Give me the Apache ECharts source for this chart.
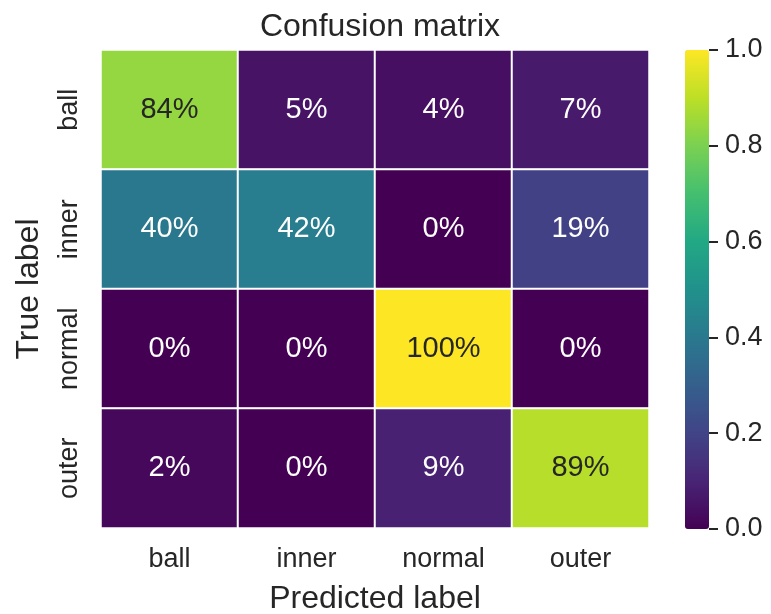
<!DOCTYPE html>
<html>
<head>
<meta charset="utf-8">
<title>Confusion matrix</title>
<script src="https://cdn.jsdelivr.net/npm/echarts@6/dist/echarts.min.js"></script>
<style>
  html, body { margin: 0; padding: 0; background: #ffffff; }
  #chart { width: 771px; height: 614px; }
</style>
</head>
<body>
<div id="chart"></div>
<script>
// Class names along both axes
const predictedLabels = ['ball', 'inner', 'normal', 'outer'];
const trueLabels = ['ball', 'inner', 'normal', 'outer'];

// Row-normalised rates, one array per true class
const rowBall = [0.84, 0.05, 0.04, 0.07];
const rowInner = [0.40, 0.42, 0.00, 0.19];
const rowNormal = [0.00, 0.00, 1.00, 0.00];
const rowOuter = [0.02, 0.00, 0.09, 0.89];

// Colour bar tick values
const colorbarTicks = [0.0, 0.2, 0.4, 0.6, 0.8, 1.0];

// Viridis stops for the colour scale
const viridis = ['#440154', '#482475', '#414487', '#355f8d', '#2a788e',
                 '#21918c', '#22a884', '#44bf70', '#7ad151', '#bddf26', '#fde725'];

const FONT = '"Liberation Sans", Arial, Helvetica, sans-serif';
const INK = '#262626';

const rows = [rowBall, rowInner, rowNormal, rowOuter];
const cells = [];
rows.forEach((row, r) => {
  row.forEach((v, c) => {
    cells.push({
      value: [c, r, v],
      label: { color: v > 0.6 ? INK : '#ffffff' }
    });
  });
});

const chart = echarts.init(document.getElementById('chart'), null, { renderer: 'canvas' });

chart.setOption({
  backgroundColor: '#ffffff',
  animation: false,
  textStyle: { fontFamily: FONT },
  title: {
    text: 'Confusion matrix',
    left: 375,
    top: 6,
    textAlign: 'center',
    textStyle: { fontFamily: FONT, fontSize: 32, fontWeight: 'normal', color: INK }
  },
  grid: [
    { left: 101, top: 50, width: 548, height: 478, containLabel: false, outerBoundsMode: 'none' },
    { left: 685, top: 50, width: 24, height: 479, containLabel: false, outerBoundsMode: 'none' }
  ],
  xAxis: [
    {
      type: 'category',
      gridIndex: 0,
      data: predictedLabels,
      position: 'bottom',
      name: 'Predicted label',
      nameLocation: 'middle',
      nameGap: 55,
      nameTextStyle: { fontFamily: FONT, fontSize: 32, color: INK },
      axisLine: { show: false },
      axisTick: { show: false },
      splitLine: { show: false },
      axisLabel: { fontFamily: FONT, fontSize: 27, color: INK, margin: 18 }
    },
    { type: 'value', gridIndex: 1, show: false, min: 0, max: 1 }
  ],
  yAxis: [
    {
      type: 'category',
      gridIndex: 0,
      data: trueLabels,
      inverse: true,
      name: 'True label',
      nameLocation: 'middle',
      nameGap: 56,
      nameTextStyle: { fontFamily: FONT, fontSize: 32, color: INK },
      axisLine: { show: false },
      axisTick: { show: false },
      splitLine: { show: false },
      axisLabel: { fontFamily: FONT, fontSize: 27, color: INK, rotate: 90, margin: 18 }
    },
    {
      type: 'value',
      gridIndex: 1,
      position: 'right',
      z: 10,
      min: colorbarTicks[0],
      max: colorbarTicks[colorbarTicks.length - 1],
      interval: 0.2,
      axisLine: { show: true, onZero: false, lineStyle: { color: 'rgba(0,0,0,0)' } },
      splitLine: { show: false },
      axisTick: { show: true, inside: false, length: 9, lineStyle: { color: INK, width: 2 } },
      axisLabel: {
        fontFamily: FONT, fontSize: 27, color: INK, margin: 16,
        formatter: v => v.toFixed(1)
      }
    }
  ],
  visualMap: {
    type: 'continuous',
    seriesIndex: 0,
    min: 0,
    max: 1,
    calculable: false,
    hoverLink: false,
    orient: 'vertical',
    left: 685,
    top: 50,
    itemWidth: 24,
    itemHeight: 479,
    padding: 0,
    text: null,
    z: 1,
    inRange: { color: viridis }
  },
  series: [
    {
      type: 'heatmap',
      xAxisIndex: 0,
      yAxisIndex: 0,
      data: cells,
      itemStyle: { borderColor: '#ffffff', borderWidth: 2 },
      label: {
        show: true,
        fontFamily: FONT,
        fontSize: 29,
        formatter: p => Math.round(p.value[2] * 100) + '%'
      },
      emphasis: { disabled: true }
    },
    {
      type: 'scatter',
      xAxisIndex: 1,
      yAxisIndex: 1,
      data: [],
      silent: true
    }
  ]
});
</script>
</body>
</html>
